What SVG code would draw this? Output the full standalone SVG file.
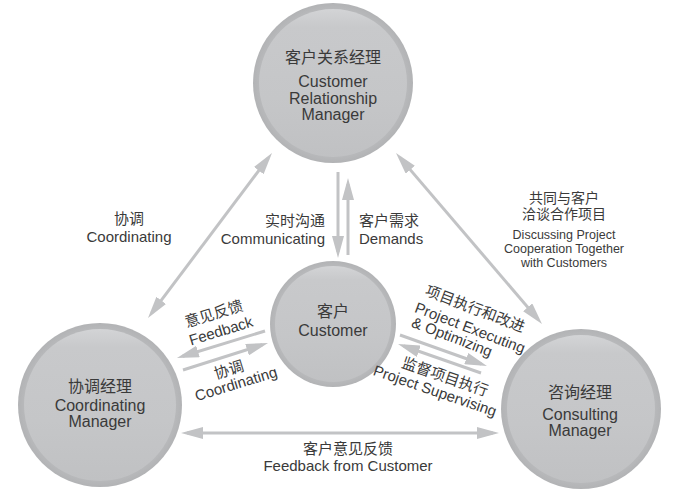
<svg xmlns="http://www.w3.org/2000/svg" width="687" height="492" viewBox="0 0 687 492">
<style>
text{font-family:"Liberation Sans","Noto Sans CJK SC",sans-serif;fill:#3a3a3a;}
.n{font-size:16px;text-anchor:middle;}
.l{font-size:15px;}
.s{font-size:12.5px;text-anchor:middle;}
.c{text-anchor:middle;}
.a{stroke:#c2c3c5;stroke-width:3;fill:none;}
.d{marker-start:url(#h);marker-end:url(#h);}
.e{marker-end:url(#h);}
.o{fill:url(#go);}
.i{fill:url(#gi);}
</style>
<defs>
<radialGradient id="go" cx="50%" cy="50%" r="50%">
<stop offset="0.85" stop-color="#bdbec0"/>
<stop offset="1" stop-color="#b2b3b5"/>
</radialGradient>
<linearGradient id="gi" x1="0" y1="0" x2="0" y2="1">
<stop offset="0" stop-color="#d3d4d6"/>
<stop offset="0.12" stop-color="#c8c9cb"/>
<stop offset="0.6" stop-color="#c5c6c8"/>
<stop offset="1" stop-color="#c0c1c3"/>
</linearGradient>
<marker id="h" markerUnits="userSpaceOnUse" markerWidth="22" markerHeight="12" viewBox="0 0 22 12" refX="16" refY="6" orient="auto-start-reverse">
<path d="M0,0 L22,6 L0,12 z" fill="#c2c3c5"/>
</marker>
</defs>
<rect width="687" height="492" fill="#ffffff"/>
<g id="connectors">
<line class="a d" x1="268.4" y1="157.8" x2="151.6" y2="313.2"/>
<line class="a d" x1="399.9" y1="157.6" x2="538.1" y2="319.4"/>
<line class="a e" x1="338" y1="172" x2="338" y2="252"/>
<line class="a e" x1="348" y1="255" x2="348" y2="184"/>
<line class="a d" x1="187" y1="433" x2="493" y2="433"/>
<line class="a e" x1="265" y1="331" x2="182.7" y2="356.2"/>
<line class="a e" x1="183" y1="370" x2="262.3" y2="344.8"/>
<line class="a e" x1="400" y1="335" x2="481.3" y2="364"/>
<line class="a e" x1="481" y1="373" x2="403.7" y2="346"/>
</g>
<g id="crm">
<circle class="o" cx="333" cy="83" r="80"/>
<circle class="i" cx="333" cy="83" r="74"/>
<text class="n" x="333" y="63">客户关系经理</text>
<text class="n" x="333" y="87">Customer</text>
<text class="n" x="333" y="104">Relationship</text>
<text class="n" x="333" y="120">Manager</text>
</g>
<g id="customer">
<circle class="o" cx="333" cy="324" r="63"/>
<circle class="i" cx="333" cy="324" r="58"/>
<text class="n" x="333" y="317">客户</text>
<text class="n" x="333" y="336">Customer</text>
</g>
<g id="coordinating">
<circle class="o" cx="100" cy="405" r="82"/>
<circle class="i" cx="100" cy="405" r="76"/>
<text class="n" x="100" y="392">协调经理</text>
<text class="n" x="100" y="411">Coordinating</text>
<text class="n" x="100" y="427">Manager</text>
</g>
<g id="consulting">
<circle class="o" cx="581" cy="409" r="80"/>
<circle class="i" cx="581" cy="409" r="74"/>
<text class="n" x="580" y="398">咨询经理</text>
<text class="n" x="580" y="420">Consulting</text>
<text class="n" x="580" y="436">Manager</text>
</g>
<g id="labels">
<text class="l c" x="129" y="224">协调</text>
<text class="l c" x="129" y="242">Coordinating</text>
<text class="l" x="325" y="226" text-anchor="end">实时沟通</text>
<text class="l" x="325" y="244" text-anchor="end">Communicating</text>
<text class="l" x="359" y="226">客户需求</text>
<text class="l" x="359" y="244">Demands</text>
<text class="l c" x="564" y="203" style="font-size:14px">共同与客户</text>
<text class="l c" x="564" y="219" style="font-size:14px">洽谈合作项目</text>
<text class="s" x="564" y="239">Discussing Project</text>
<text class="s" x="564" y="253">Cooperation Together</text>
<text class="s" x="564" y="267">with Customers</text>
<text class="l c" x="348" y="454">客户意见反馈</text>
<text class="l c" x="348" y="471">Feedback from Customer</text>
<g transform="translate(214,314) rotate(-17)"><text class="l c" x="0" y="5">意见反馈</text></g>
<g transform="translate(221,331) rotate(-17)"><text class="l c" x="0" y="5">Feedback</text></g>
<g transform="translate(229,370) rotate(-17)"><text class="l c" x="0" y="5">协调</text></g>
<g transform="translate(236,384) rotate(-17)"><text class="l c" x="0" y="5">Coordinating</text></g>
<g transform="translate(475,309) rotate(21)"><text class="l c" x="0" y="5">项目执行和改进</text></g>
<g transform="translate(470,328) rotate(21)"><text class="l c" x="0" y="5">Project Executing</text></g>
<g transform="translate(452,337) rotate(21)"><text class="l c" x="0" y="5">&amp; Optimizing</text></g>
<g transform="translate(445,377) rotate(19)"><text class="l c" x="0" y="5">监督项目执行</text></g>
<g transform="translate(435,391) rotate(19)"><text class="l c" x="0" y="5">Project Supervising</text></g>
</g>
</svg>
